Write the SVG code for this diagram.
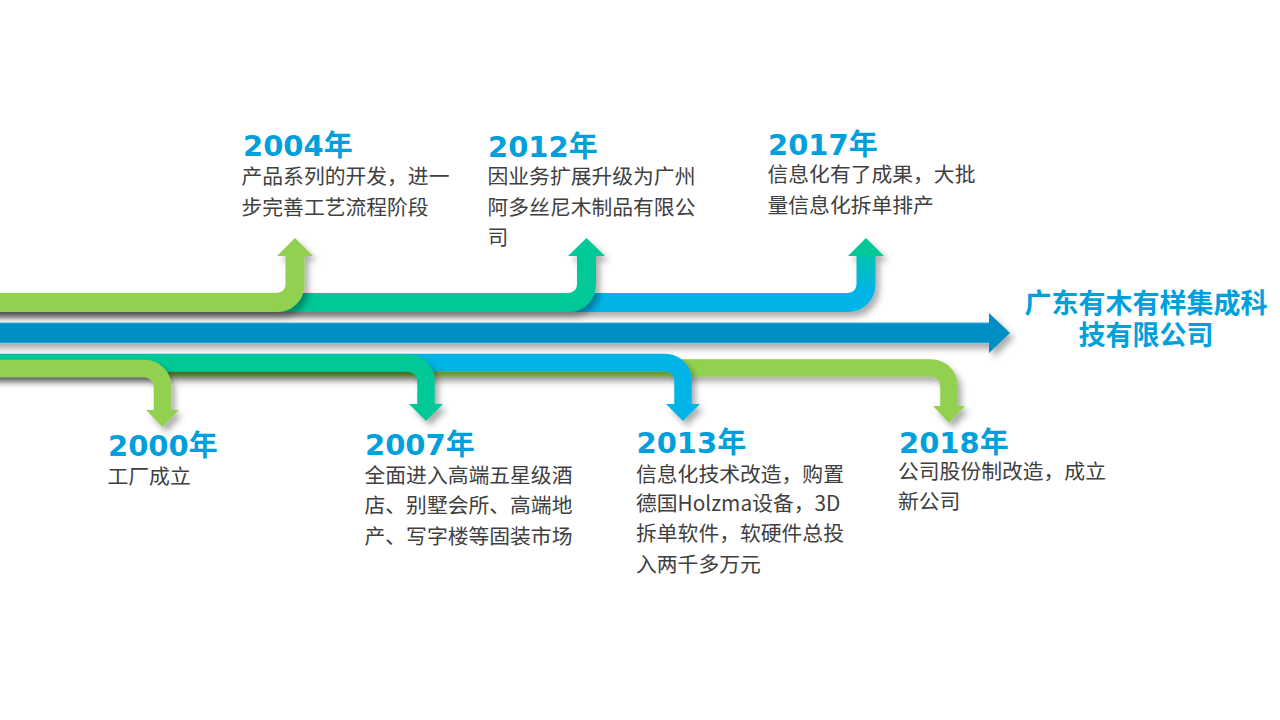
<svg xmlns="http://www.w3.org/2000/svg" width="1280" height="720" viewBox="0 0 1280 720">
  <defs>
    <filter id="sh" x="-10%" y="-30%" width="130%" height="180%">
      <feDropShadow dx="4" dy="5" stdDeviation="3" flood-color="#000" flood-opacity="0.32"/>
    </filter>
    <linearGradient id="g2017" gradientUnits="userSpaceOnUse" x1="0" y1="292" x2="0" y2="240">
      <stop offset="0" stop-color="#00B4E8"/>
      <stop offset="1" stop-color="#00C896"/>
    </linearGradient>
    <style>
      .up { fill: none; stroke-width: 19; }
      .dn { fill: none; stroke-width: 17.5; }
      .green { stroke: #92D050; }
      .teal { stroke: #00C896; }
      .cyan { stroke: #00B4E8; }
      .yr { font-family: "DejaVu Sans", "Noto Sans CJK SC", sans-serif; font-weight: bold; font-size: 29px; fill: #00A0DC; }
      .body { font-family: "Noto Sans CJK SC", "Noto Sans", sans-serif; font-size: 20.8px; fill: #404040; }
      .title { font-family: "Noto Sans CJK SC", "Noto Sans", sans-serif; font-weight: bold; font-size: 27px; fill: #00A0DC; text-anchor: middle; }
    </style>
  </defs>
  <rect width="1280" height="720" fill="#FFFFFF"/>

  <g id="connectors">
    <!-- upper arrows -->
    <g id="arrow-2017" filter="url(#sh)">
      <path class="up" stroke="url(#g2017)" d="M -20 302.5 H 848 A 18 18 0 0 0 866 284.5 V 255"/>
      <polygon points="848,256 884,256 866,238" fill="#00C896"/>
    </g>
    <g id="arrow-2012" filter="url(#sh)">
      <path class="up teal" d="M -20 302.5 H 568.5 A 18 18 0 0 0 586.5 284.5 V 255"/>
      <polygon points="568,256 605,256 586.5,238" fill="#00C896"/>
    </g>
    <g id="arrow-2004" filter="url(#sh)">
      <path class="up green" d="M -20 302.5 H 277 A 18 18 0 0 0 295 284.5 V 255"/>
      <polygon points="277,256 313,256 295,238" fill="#92D050"/>
    </g>

    <!-- main arrow -->
    <g id="main-arrow" filter="url(#sh)">
      <path d="M -20 323 H 989 V 313 L 1010 333 L 989 353 V 343 H -20 Z" fill="#008FC4"/>
      <rect x="-20" y="322.3" width="1009" height="1" fill="#6CC0E6"/>
      <rect x="-20" y="342.7" width="1009" height="1" fill="#6CC0E6"/>
    </g>

    <!-- lower arrows -->
    <g id="arrow-2018" filter="url(#sh)">
      <path class="dn green" d="M -20 368 H 931 A 18 18 0 0 1 949 386 V 407"/>
      <polygon points="933,406 965,406 949,423" fill="#92D050"/>
    </g>
    <g id="arrow-2013" filter="url(#sh)">
      <path class="dn cyan" d="M -20 362.5 H 665 A 18 18 0 0 1 683 380.5 V 405"/>
      <polygon points="666,404 700,404 683,421" fill="#00B4E8"/>
    </g>
    <g id="arrow-2007" filter="url(#sh)">
      <path class="dn teal" d="M -20 363 H 408 A 18 18 0 0 1 426 381 V 405"/>
      <polygon points="409,404 443,404 426,421" fill="#00C896"/>
    </g>
    <g id="arrow-2000" filter="url(#sh)">
      <path class="dn green" d="M -20 368.5 H 144.5 A 18 18 0 0 1 162.5 386.5 V 411"/>
      <polygon points="146,410 179,410 162.5,427" fill="#92D050"/>
    </g>
  </g>

  <g id="title">
    <text class="title" x="1146" y="313">广东有木有样集成科</text>
    <text class="title" x="1146" y="344.5">技有限公司</text>
  </g>

  <g id="node-2004">
    <text class="yr" x="243" y="156">2004年</text>
    <text class="body" x="241.5" y="183.5">产品系列的开发，进一</text>
    <text class="body" x="241.5" y="214.5">步完善工艺流程阶段</text>
  </g>
  <g id="node-2012">
    <text class="yr" x="488" y="157">2012年</text>
    <text class="body" x="487.5" y="183.5">因业务扩展升级为广州</text>
    <text class="body" x="487.5" y="214.5">阿多丝尼木制品有限公</text>
    <text class="body" x="487.5" y="245">司</text>
  </g>
  <g id="node-2017">
    <text class="yr" x="768" y="155">2017年</text>
    <text class="body" x="767.5" y="182">信息化有了成果，大批</text>
    <text class="body" x="767.5" y="212.5">量信息化拆单排产</text>
  </g>
  <g id="node-2000">
    <text class="yr" x="108" y="456">2000年</text>
    <text class="body" x="107.5" y="484">工厂成立</text>
  </g>
  <g id="node-2007">
    <text class="yr" x="365" y="455">2007年</text>
    <text class="body" x="364.5" y="482.5">全面进入高端五星级酒</text>
    <text class="body" x="364.5" y="513">店、别墅会所、高端地</text>
    <text class="body" x="364.5" y="543.5">产、写字楼等固装市场</text>
  </g>
  <g id="node-2013">
    <text class="yr" x="636.5" y="453">2013年</text>
    <text class="body" x="636" y="482">信息化技术改造，购置</text>
    <text class="body" x="636" y="511">德国Holzma设备，3D</text>
    <text class="body" x="636" y="541">拆单软件，软硬件总投</text>
    <text class="body" x="636" y="572">入两千多万元</text>
  </g>
  <g id="node-2018">
    <text class="yr" x="899" y="452.5">2018年</text>
    <text class="body" x="898" y="479">公司股份制改造，成立</text>
    <text class="body" x="898" y="509">新公司</text>
  </g>
</svg>
